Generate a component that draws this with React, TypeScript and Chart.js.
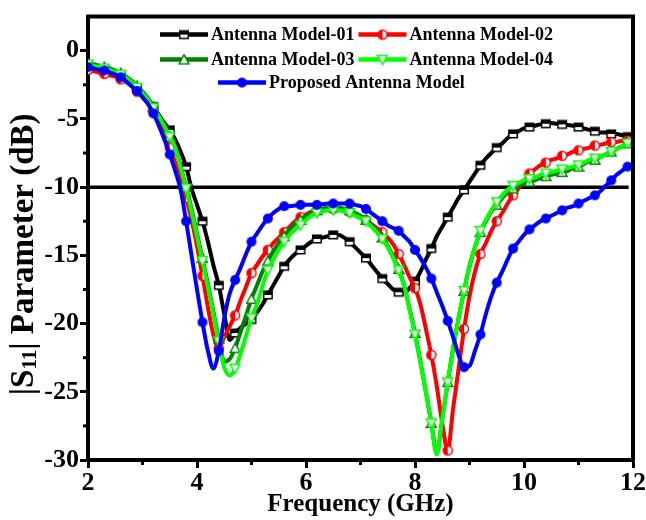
import React, { useEffect, useRef } from 'react';
import { Chart, registerables } from 'chart.js';

Chart.register(...registerables);

const FREQ_GHZ = [
  2.0, 2.1, 2.2, 2.3, 2.4, 2.5, 2.6, 2.7, 2.8, 2.9,
  3.0, 3.1, 3.2, 3.3, 3.4, 3.5, 3.6, 3.7, 3.8, 3.9,
  4.0, 4.1, 4.2, 4.3, 4.4, 4.5, 4.6, 4.7, 4.8, 4.9,
  5.0, 5.1, 5.2, 5.3, 5.4, 5.5, 5.6, 5.7, 5.8, 5.9,
  6.0, 6.1, 6.2, 6.3, 6.4, 6.5, 6.6, 6.7, 6.8, 6.9,
  7.0, 7.1, 7.2, 7.3, 7.4, 7.5, 7.6, 7.7, 7.8, 7.9,
  8.0, 8.1, 8.2, 8.3, 8.4, 8.5, 8.6, 8.7, 8.8, 8.9,
  9.0, 9.1, 9.2, 9.3, 9.4, 9.5, 9.6, 9.7, 9.8, 9.9,
  10.0, 10.1, 10.2, 10.3, 10.4, 10.5, 10.6, 10.7, 10.8, 10.9,
  11.0, 11.1, 11.2, 11.3, 11.4, 11.5, 11.6, 11.7, 11.8, 11.9, 12.0,
];

const S11_MODEL_01 = [
  -1.1, -1.2, -1.3, -1.4, -1.5, -1.7, -1.9, -2.1, -2.4, -2.8,
  -3.2, -3.6, -4.1, -4.7, -5.3, -5.8, -6.5, -7.4, -8.5, -10.1,
  -11.3, -12.5, -14.0, -15.7, -17.2, -19.3, -21.2, -20.7, -20.3, -20.0,
  -19.7, -19.2, -18.6, -17.9, -17.2, -16.5, -15.8, -15.3, -14.9, -14.6,
  -14.3, -14.0, -13.8, -13.7, -13.6, -13.5, -13.5, -13.7, -14.0, -14.4,
  -14.8, -15.2, -15.7, -16.2, -16.7, -17.1, -17.5, -17.7, -17.7, -17.4,
  -16.9, -16.2, -15.3, -14.5, -13.6, -12.9, -12.2, -11.5, -10.8, -10.2,
  -9.6, -9.0, -8.4, -7.9, -7.5, -7.1, -6.8, -6.4, -6.1, -5.9,
  -5.7, -5.6, -5.5, -5.4, -5.35, -5.3, -5.35, -5.4, -5.45, -5.5,
  -5.6, -5.7, -5.8, -5.9, -6.0, -6.0, -6.1, -6.1, -6.2, -6.3, -6.5,
];

const S11_MODEL_02 = [
  -1.4, -1.5, -1.6, -1.7, -1.8, -1.9, -2.1, -2.3, -2.6, -3.0,
  -3.4, -3.9, -4.5, -5.2, -6.1, -7.1, -8.2, -9.4, -10.8, -12.4,
  -14.3, -16.5, -18.8, -20.8, -21.8, -21.0, -20.2, -19.4, -18.3, -17.3,
  -16.3, -15.7, -15.1, -14.6, -14.1, -13.7, -13.3, -12.9, -12.5, -12.2,
  -12.0, -11.8, -11.7, -11.6, -11.6, -11.6, -11.6, -11.7, -11.8, -12.0,
  -12.2, -12.4, -12.7, -13.0, -13.3, -13.7, -14.2, -14.9, -15.7, -16.6,
  -17.4, -18.6, -20.4, -22.3, -24.6, -27.3, -29.3, -26.2, -23.3, -20.4,
  -18.0, -16.2, -14.9, -14.1, -13.2, -12.5, -11.9, -11.2, -10.6, -10.1,
  -9.6, -9.0, -8.7, -8.4, -8.2, -8.0, -7.9, -7.7, -7.6, -7.4,
  -7.3, -7.2, -7.1, -6.95, -6.9, -6.8, -6.7, -6.7, -6.6, -6.6, -6.5,
];

const S11_MODEL_03 = [
  -1.0, -1.0, -1.1, -1.2, -1.3, -1.45, -1.65, -1.9, -2.2, -2.6,
  -3.0, -3.5, -4.1, -4.8, -5.5, -6.3, -7.1, -8.5, -10.0, -11.6,
  -13.4, -15.2, -17.1, -19.1, -21.1, -22.8, -22.6, -21.8, -20.6, -19.4,
  -18.2, -17.2, -16.2, -15.4, -14.7, -14.1, -13.6, -13.1, -12.7, -12.4,
  -12.1, -11.9, -11.7, -11.6, -11.5, -11.5, -11.5, -11.6, -11.7, -11.9,
  -12.1, -12.4, -12.8, -13.2, -13.7, -14.3, -15.1, -16.0, -17.2, -18.9,
  -20.7, -22.8, -25.0, -27.3, -29.5, -27.0, -24.3, -21.8, -19.6, -17.6,
  -15.8, -14.4, -13.3, -12.5, -11.8, -11.3, -10.8, -10.4, -10.1, -9.9,
  -9.7, -9.6, -9.5, -9.3, -9.2, -9.1, -9.0, -8.9, -8.8, -8.6,
  -8.5, -8.3, -8.1, -8.0, -7.8, -7.6, -7.4, -7.2, -7.0, -6.8, -6.7,
];

const S11_MODEL_04 = [
  -1.0, -1.1, -1.2, -1.3, -1.4, -1.55, -1.75, -2.0, -2.3, -2.7,
  -3.1, -3.6, -4.2, -4.8, -5.5, -6.3, -7.1, -8.6, -10.1, -11.8,
  -13.6, -15.4, -17.3, -19.3, -21.3, -23.2, -23.8, -23.3, -22.2, -20.9,
  -19.6, -18.6, -17.3, -16.1, -15.3, -14.6, -14.0, -13.5, -13.1, -12.8,
  -12.4, -12.1, -11.9, -11.8, -11.7, -11.7, -11.7, -11.8, -11.9, -12.1,
  -12.3, -12.5, -12.9, -13.3, -13.8, -14.4, -15.2, -16.1, -17.2, -19.0,
  -20.8, -22.9, -25.0, -27.3, -29.6, -27.0, -24.3, -21.8, -19.6, -17.6,
  -15.8, -14.4, -13.2, -12.4, -11.7, -11.1, -10.6, -10.2, -9.9, -9.7,
  -9.5, -9.4, -9.3, -9.1, -9.0, -8.9, -8.8, -8.7, -8.6, -8.5,
  -8.4, -8.2, -8.0, -7.9, -7.8, -7.6, -7.4, -7.2, -7.0, -6.8, -6.6,
];

const S11_PROPOSED = [
  -1.2, -1.3, -1.4, -1.45, -1.6, -1.75, -1.95, -2.25, -2.6, -2.95,
  -3.4, -3.9, -4.6, -5.5, -6.5, -7.6, -8.8, -10.2, -12.5, -15.0,
  -17.5, -19.9, -22.0, -23.3, -22.0, -19.6, -17.8, -16.8, -15.9, -14.9,
  -14.0, -13.4, -12.8, -12.3, -11.9, -11.6, -11.4, -11.4, -11.35, -11.3,
  -11.3, -11.3, -11.3, -11.25, -11.2, -11.2, -11.2, -11.2, -11.2, -11.3,
  -11.4, -11.6, -11.9, -12.2, -12.5, -12.8, -13.0, -13.2, -13.6, -14.0,
  -14.6, -15.2, -15.9, -16.7, -17.7, -18.7, -19.8, -21.0, -22.3, -23.2,
  -23.1, -22.0, -20.8, -19.3, -18.0, -17.0, -16.2, -15.3, -14.5, -14.0,
  -13.5, -13.1, -12.8, -12.5, -12.3, -12.1, -11.9, -11.7, -11.5, -11.4,
  -11.2, -11.0, -10.8, -10.6, -10.3, -9.9, -9.5, -9.1, -8.8, -8.5, -8.3,
];

const THRESHOLD_X = [2, 11.92];
const THRESHOLD_Y = [-10, -10];

const X_MAJOR_TICKS = [2, 4, 6, 8, 10, 12];
const X_MINOR_TICKS = [3, 5, 7, 9, 11];
const Y_MAJOR_TICKS = [-30, -25, -20, -15, -10, -5, 0];
const Y_MINOR_TICKS = [-27.5, -22.5, -17.5, -12.5, -7.5, -2.5];

const SERIES_NAMES = [
  'Antenna Model-01',
  'Antenna Model-02',
  'Antenna Model-03',
  'Antenna Model-04',
  'Proposed Antenna Model',
];
const SERIES_COLORS = ['#000000', '#ff0000', '#008000', '#00ff00', '#0000ff'];

const FONT = "'Liberation Serif', 'Times New Roman', serif";

function makeMarker(kind: string, color: string): HTMLCanvasElement {
  const c = document.createElement('canvas');
  c.width = 12;
  c.height = 12;
  const g = c.getContext('2d') as CanvasRenderingContext2D;
  g.lineWidth = 1.5;
  if (kind === 'square') {
    g.fillStyle = color;
    g.fillRect(1, 1.5, 10, 9);
    g.fillStyle = '#ffffff';
    g.fillRect(2.5, 6, 7, 3);
  } else if (kind === 'halfCircle') {
    g.beginPath();
    g.arc(6, 6, 4.5, 0, Math.PI * 2);
    g.fillStyle = '#ffffff';
    g.fill();
    g.beginPath();
    g.arc(6, 6, 4.5, Math.PI / 2, Math.PI * 1.5);
    g.fillStyle = color;
    g.fill();
    g.beginPath();
    g.arc(6, 6, 4.5, 0, Math.PI * 2);
    g.strokeStyle = color;
    g.stroke();
  } else if (kind === 'triUp') {
    g.beginPath();
    g.moveTo(6, 1.2);
    g.lineTo(10.9, 10.2);
    g.lineTo(1.1, 10.2);
    g.closePath();
    g.fillStyle = '#ffffff';
    g.fill();
    g.strokeStyle = color;
    g.stroke();
  } else if (kind === 'triDown') {
    g.beginPath();
    g.moveTo(1.1, 1.8);
    g.lineTo(10.9, 1.8);
    g.lineTo(6, 10.8);
    g.closePath();
    g.fillStyle = '#ffffff';
    g.fill();
    g.strokeStyle = color;
    g.stroke();
  } else {
    g.beginPath();
    g.arc(6, 6, 5, 0, Math.PI * 2);
    g.fillStyle = color;
    g.fill();
  }
  return c;
}

function makeDecor(markers: HTMLCanvasElement[]) {
  return {
    id: 'customDecor',
    afterDraw(chart: any) {
      const { ctx, chartArea } = chart;
      const xs = chart.scales.x;
      const ys = chart.scales.y;
      ctx.save();
      ctx.strokeStyle = '#000';
      ctx.lineWidth = 4;
      ctx.beginPath();
      ctx.moveTo(chartArea.left - 1.5, chartArea.top);
      ctx.lineTo(chartArea.right, chartArea.top);
      ctx.lineTo(chartArea.right, chartArea.bottom + 1.5);
      ctx.stroke();

      ctx.lineWidth = 3;
      X_MINOR_TICKS.forEach((v) => {
        const px = xs.getPixelForValue(v);
        ctx.beginPath();
        ctx.moveTo(px, chartArea.bottom);
        ctx.lineTo(px, chartArea.bottom + 5);
        ctx.stroke();
      });
      Y_MINOR_TICKS.forEach((v) => {
        const py = ys.getPixelForValue(v);
        ctx.beginPath();
        ctx.moveTo(chartArea.left, py);
        ctx.lineTo(chartArea.left - 5, py);
        ctx.stroke();
      });

      const rows = [[0, 1], [2, 3], [4]];
      const rowY = [18, 43, 66];
      const rowX = [72, 72, 130];
      ctx.textBaseline = 'middle';
      ctx.textAlign = 'left';
      rows.forEach((row, r) => {
        let x = chartArea.left + rowX[r];
        const y = chartArea.top + rowY[r];
        row.forEach((i) => {
          ctx.strokeStyle = SERIES_COLORS[i];
          ctx.lineWidth = 4.5;
          ctx.beginPath();
          ctx.moveTo(x, y);
          ctx.lineTo(x + 48, y);
          ctx.stroke();
          const m = markers[i];
          ctx.drawImage(m, x + 24 - m.width / 2, y - m.height / 2);
          ctx.fillStyle = '#000';
          ctx.font = `bold 18px ${FONT}`;
          ctx.fillText(SERIES_NAMES[i], x + 51, y + 1);
          x += 51 + ctx.measureText(SERIES_NAMES[i]).width + 4;
        });
      });

      const big = `bold 33px ${FONT}`;
      const small = `bold 21px ${FONT}`;
      const parts: [string, string, number][] = [
        ['|S', big, 0],
        ['11', small, 7],
        ['| Parameter (dB)', big, 0],
      ];
      let total = 0;
      parts.forEach(([t, f]) => {
        ctx.font = f;
        total += ctx.measureText(t).width;
      });
      ctx.translate(24, (chartArea.top + chartArea.bottom) / 2 + 16);
      ctx.rotate(-Math.PI / 2);
      ctx.fillStyle = '#000';
      ctx.textBaseline = 'middle';
      ctx.textAlign = 'left';
      let px = -total / 2;
      parts.forEach(([t, f, dy]) => {
        ctx.font = f;
        ctx.fillText(t, px, dy);
        px += ctx.measureText(t).width;
      });
      ctx.restore();
    },
  };
}

export default function App() {
  const ref = useRef<HTMLCanvasElement>(null);

  useEffect(() => {
    if (!ref.current) return;
    const markerKinds = ['square', 'halfCircle', 'triUp', 'triDown', 'dot'];
    const markers = markerKinds.map((k, i) => makeMarker(k, SERIES_COLORS[i]));
    const seriesData = [S11_MODEL_01, S11_MODEL_02, S11_MODEL_03, S11_MODEL_04, S11_PROPOSED];
    const drawOrder = [4, 3, 2, 1, 0];

    const datasets: any[] = seriesData.map((vals, i) => ({
      label: SERIES_NAMES[i],
      data: FREQ_GHZ.map((x, k) => ({ x, y: vals[k] })),
      borderColor: SERIES_COLORS[i],
      backgroundColor: SERIES_COLORS[i],
      borderWidth: 4,
      pointStyle: markers[i],
      pointRadius: (c: any) => (c.dataIndex % 3 === 0 ? 5 : 0),
      pointHoverRadius: 0,
      cubicInterpolationMode: 'monotone',
      order: drawOrder[i],
    }));
    datasets.push({
      label: '-10 dB',
      data: THRESHOLD_X.map((x, k) => ({ x, y: THRESHOLD_Y[k] })),
      borderColor: '#000000',
      borderWidth: 3.5,
      pointRadius: 0,
      order: 10,
    });

    const tickFont = { family: FONT, size: 26, weight: 'bold' as const };

    const chart: any = new Chart(ref.current, {
      type: 'line',
      data: { datasets },
      options: {
        animation: false,
        responsive: false,
        devicePixelRatio: 1,
        layout: { padding: { top: 15, right: 11, left: 0, bottom: 0 } },
        plugins: {
          legend: { display: false },
          tooltip: { enabled: false },
        },
        scales: {
          x: {
            type: 'linear',
            min: 2,
            max: 12,
            afterBuildTicks: (s: any) => {
              s.ticks = X_MAJOR_TICKS.map((v) => ({ value: v }));
            },
            afterFit: (s: any) => {
              s.height = 60;
            },
            ticks: { font: tickFont, color: '#000', maxRotation: 0, padding: 0 },
            grid: {
              display: true,
              drawOnChartArea: false,
              drawTicks: true,
              tickLength: 8,
              tickWidth: 3,
              tickColor: '#000',
            },
            border: { display: true, color: '#000', width: 4 },
            title: {
              display: true,
              text: 'Frequency (GHz)',
              color: '#000',
              font: { family: FONT, size: 25, weight: 'bold' },
              padding: { top: 0, bottom: 0 },
            },
          },
          y: {
            type: 'linear',
            min: -30,
            max: 2.5,
            afterBuildTicks: (s: any) => {
              s.ticks = Y_MAJOR_TICKS.map((v) => ({ value: v }));
            },
            afterFit: (s: any) => {
              s.width = 88;
            },
            ticks: { font: tickFont, color: '#000', padding: 1 },
            grid: {
              display: true,
              drawOnChartArea: false,
              drawTicks: true,
              tickLength: 8,
              tickWidth: 3,
              tickColor: '#000',
            },
            border: { display: true, color: '#000', width: 4 },
          },
        },
      },
      plugins: [makeDecor(markers)],
    });

    return () => chart.destroy();
  }, []);

  return (
    <div style={{ position: 'fixed', left: 0, top: 0, width: 646, height: 520, background: '#fff' }}>
      <canvas ref={ref} width={646} height={520} style={{ display: 'block' }} />
    </div>
  );
}
